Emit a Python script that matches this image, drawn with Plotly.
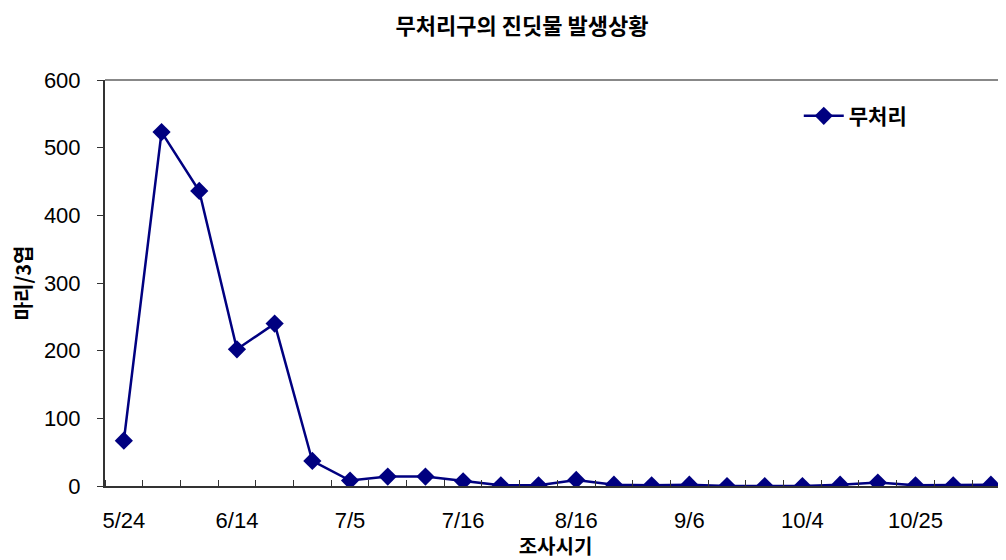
import plotly.graph_objects as go

# survey dates (only every 3rd label is printed on the axis)
tick_labels = ['5/24', '6/14', '7/5', '7/16', '8/16', '9/6', '10/4', '10/25']
tick_index = [0, 3, 6, 9, 12, 15, 18, 21]

# aphids per 3 leaves, untreated plot
survey_no = list(range(24))
aphids = [67, 523, 436, 202, 240, 37, 8, 14, 14, 7, 1, 1, 9, 2, 1, 2,
          0, 0, 0, 2, 5, 1, 1, 2]

kfont = "Noto Sans CJK KR"
nfont = "Liberation Sans, Arial, sans-serif"

fig = go.Figure()
fig.add_trace(go.Scatter(
    x=survey_no,
    y=aphids,
    mode='lines+markers',
    name='무처리',
    line=dict(color='#000080', width=2.5),
    marker=dict(symbol='diamond', size=14, color='#000080'),
))

fig.update_layout(
    width=998,
    height=552,
    paper_bgcolor='white',
    plot_bgcolor='white',
    margin=dict(l=97, r=0, t=72, b=74),
    title=dict(
        text='무처리구의 진딧물 발생상황',
        x=0.515, xanchor='center', y=0.966, yanchor='middle',
        font=dict(family=kfont, size=22, color='black', weight='bold'),
    ),
    showlegend=True,
    legend=dict(
        x=0.77, y=0.911, xanchor='left', yanchor='middle',
        font=dict(family=kfont, size=21, color='black', weight='bold'),
        bgcolor='rgba(0,0,0,0)',
        itemwidth=40,
    ),
    xaxis=dict(
        range=[-0.5, 23.4],
        tickvals=tick_index,
        ticktext=tick_labels,
        ticks='',
        showgrid=False,
        zeroline=False,
        showline=True,
        linecolor='#333333',
        linewidth=2,
        ticklabelstandoff=14,
        tickfont=dict(family=nfont, size=22, color='black'),
        minor=dict(tick0=-0.5, dtick=1, ticks='inside', ticklen=6,
                   tickcolor='#333333', tickwidth=1, showgrid=False),
        title=dict(text='조사시기', standoff=2,
                   font=dict(family=kfont, size=20, color='black', weight='bold')),
    ),
    yaxis=dict(
        range=[0, 600],
        tickvals=[0, 100, 200, 300, 400, 500, 600],
        ticks='outside',
        ticklen=6,
        tickcolor='#333333',
        showgrid=False,
        zeroline=False,
        showline=True,
        linecolor='#333333',
        linewidth=2,
        ticklabelstandoff=12,
        tickfont=dict(family=nfont, size=22, color='black'),
        title=dict(text='마리/3엽', standoff=14,
                   font=dict(family=kfont, size=20, color='black', weight='bold')),
    ),
)

# gray plot-area border on top
fig.add_shape(type='line', xref='paper', yref='paper', x0=0, x1=1, y0=1, y1=1,
              line=dict(color='#888888', width=2))

fig.write_html("out.html")
